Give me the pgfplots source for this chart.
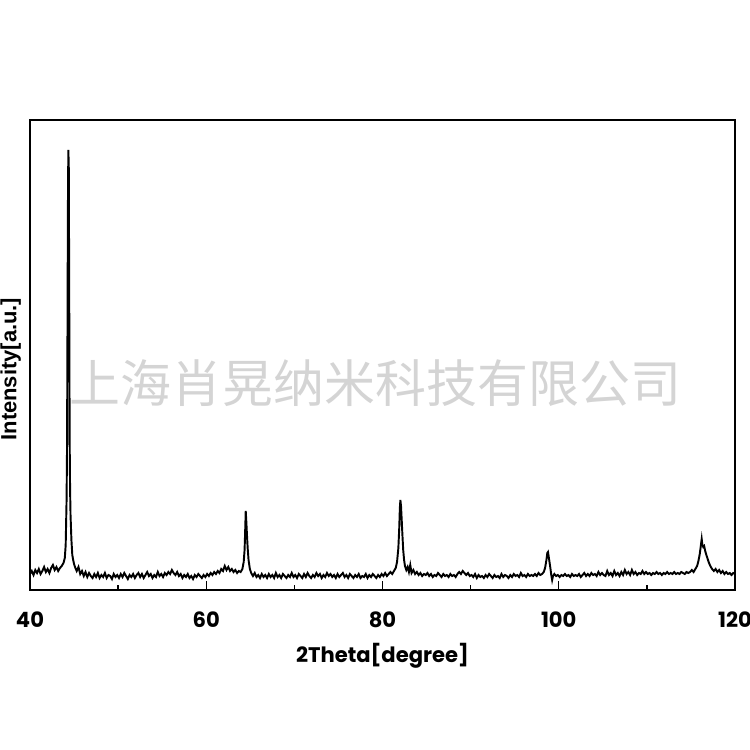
\documentclass[border=0pt]{standalone}
\usepackage{pgfplots}
\pgfplotsset{compat=1.18}
\usepackage{pgfplotstable}
\usepackage{fontspec}
\setmainfont{Poppins}
\newfontfamily\arialb{Liberation Sans}
\newfontfamily\cjk{Noto Sans CJK SC}
\pgfplotstableread{
x y
40.00 16
40.20 19
40.40 15
40.60 20
40.80 17
41.00 21
41.20 16
41.40 19
41.60 23
41.80 18
42.00 21
42.20 17
42.40 22
42.60 25
42.80 20
43.00 23
43.20 19
43.40 22
43.60 24
43.80 27
43.95 32
44.05 45
44.15 90
44.20 140
44.25 250
44.30 380
44.35 440
44.40 425
44.45 300
44.50 150
44.55 100
44.60 75
44.70 50
44.80 35
44.90 30
45.00 26
45.15 22
45.30 19
45.50 23
45.70 16
45.90 19
46.10 14
46.30 18
46.50 13
46.70 17
46.90 14
47.10 12
47.30 16
47.50 13
47.70 17
47.90 12
48.10 15
48.30 13
48.50 17
48.70 12
48.90 15
49.10 14
49.30 11
49.50 16
49.70 13
49.90 15
50.10 12
50.30 16
50.50 13
50.70 17
50.90 14
51.10 11
51.30 15
51.50 13
51.70 16
51.90 12
52.10 15
52.30 17
52.50 13
52.70 16
52.90 12
53.10 15
53.30 18
53.50 14
53.70 16
53.90 12
54.10 15
54.30 13
54.50 18
54.70 14
54.90 16
55.10 13
55.30 17
55.50 15
55.70 18
55.90 16
56.10 20
56.30 17
56.50 15
56.70 18
56.90 14
57.10 16
57.30 12
57.50 15
57.70 13
57.90 16
58.10 12
58.30 14
58.50 11
58.70 15
58.90 13
59.10 16
59.30 14
59.50 12
59.70 15
59.90 13
60.10 16
60.30 14
60.50 17
60.70 15
60.90 18
61.10 16
61.30 19
61.50 17
61.70 21
61.90 19
62.10 24
62.30 20
62.50 23
62.70 19
62.90 21
63.10 18
63.30 20
63.50 17
63.70 19
63.90 18
64.10 21
64.25 28
64.35 40
64.42 60
64.48 79
64.55 68
64.62 55
64.70 42
64.80 30
64.95 21
65.10 17
65.30 14
65.50 17
65.70 13
65.90 15
66.10 12
66.30 16
66.50 13
66.70 15
66.90 12
67.10 16
67.30 13
67.50 15
67.70 12
67.90 17
68.10 13
68.30 15
68.50 12
68.70 16
68.90 14
69.10 12
69.30 15
69.50 13
69.70 17
69.90 13
70.10 15
70.30 12
70.50 16
70.70 14
70.90 12
71.10 16
71.30 13
71.50 17
71.70 14
71.90 12
72.10 15
72.30 13
72.50 17
72.70 14
72.90 16
73.10 12
73.30 15
73.50 13
73.70 17
73.90 14
74.10 16
74.30 13
74.50 15
74.70 12
74.90 16
75.10 13
75.30 15
75.50 17
75.70 13
75.90 15
76.10 12
76.30 16
76.50 14
76.70 12
76.90 15
77.10 13
77.30 16
77.50 12
77.70 14
77.90 13
78.10 16
78.30 12
78.50 15
78.70 13
78.90 16
79.10 14
79.30 12
79.50 15
79.70 13
79.90 16
80.10 14
80.30 17
80.50 14
80.70 16
80.90 18
81.10 16
81.30 19
81.50 22
81.65 28
81.80 42
81.90 62
81.97 82
82.03 90
82.10 84
82.18 70
82.26 55
82.35 40
82.45 30
82.55 24
82.70 20
82.85 23
83.00 18
83.15 25
83.30 17
83.50 20
83.70 16
83.90 18
84.10 15
84.30 17
84.50 14
84.70 16
84.90 15
85.10 17
85.30 14
85.50 16
85.70 13
85.90 15
86.10 14
86.30 17
86.50 15
86.70 13
86.90 16
87.10 14
87.30 15
87.50 13
87.70 16
87.90 14
88.10 15
88.30 13
88.50 16
88.70 18
88.90 16
89.10 19
89.30 17
89.50 15
89.70 17
89.90 14
90.10 15
90.30 13
90.50 16
90.70 12
90.90 15
91.10 13
91.30 14
91.50 12
91.70 15
91.90 13
92.10 16
92.30 14
92.50 12
92.70 15
92.90 13
93.10 14
93.30 12
93.50 16
93.70 13
93.90 15
94.10 14
94.30 12
94.50 15
94.70 13
94.90 16
95.10 14
95.30 15
95.50 13
95.70 17
95.90 14
96.10 15
96.30 13
96.50 16
96.70 14
96.90 15
97.10 14
97.30 16
97.50 14
97.70 17
97.90 15
98.10 16
98.30 18
98.45 22
98.60 30
98.70 37
98.78 38
98.85 34
98.95 28
99.05 22
99.15 15
99.25 10
99.35 14
99.50 16
99.70 14
99.90 15
100.10 13
100.30 15
100.50 14
100.70 16
100.90 14
101.10 15
101.30 13
101.50 16
101.70 14
101.90 15
102.10 14
102.30 16
102.50 13
102.70 15
102.90 17
103.10 14
103.30 16
103.50 14
103.70 17
103.90 15
104.10 16
104.30 14
104.50 18
104.70 15
104.90 17
105.10 15
105.30 14
105.50 19
105.70 15
105.90 17
106.10 14
106.30 19
106.50 15
106.70 17
106.90 14
107.10 18
107.30 15
107.50 20
107.70 16
107.90 18
108.10 15
108.30 20
108.50 16
108.70 18
108.90 15
109.10 17
109.30 16
109.50 19
109.70 16
109.90 18
110.10 16
110.30 17
110.50 15
110.70 17
110.90 16
111.10 18
111.30 16
111.50 17
111.70 15
111.90 17
112.10 16
112.30 18
112.50 16
112.70 17
112.90 16
113.10 18
113.30 16
113.50 17
113.70 16
113.90 18
114.10 17
114.30 16
114.50 18
114.70 17
114.90 18
115.10 20
115.30 18
115.50 21
115.70 24
115.85 29
116.00 36
116.12 44
116.22 51
116.30 45
116.40 43
116.50 44
116.62 39
116.75 35
116.90 31
117.05 27
117.20 24
117.40 21
117.60 19
117.80 21
118.00 18
118.20 20
118.40 17
118.60 19
118.80 16
119.00 18
119.20 16
119.40 17
119.60 15
119.80 17
120.00 16
}\xrd
\begin{document}
\begin{tikzpicture}
\path[use as bounding box] (-0.6,-3.2) rectangle (14.4,11.8);
\begin{axis}[
  at={(0,0)}, anchor=south west,
  scale only axis, width=14.1cm, height=9.4cm,
  xmin=40, xmax=120, ymin=0, ymax=470,
  xtick={40,60,80,100,120},
  minor xtick={50,70,90,110},
  xtick pos=bottom, tick align=inside,
  major tick length=5pt, minor tick length=3pt,
  ytick=\empty,
  axis line style={line width=1.4pt},
  every tick/.style={black, line width=0.8pt},
  tick label style={font=\fontsize{12}{14}\selectfont\bfseries},
  xticklabel style={yshift=-9pt},
  /pgf/number format/assume math mode=true,
  xlabel={2Theta[degree]},
  xlabel style={font=\fontsize{12}{14}\selectfont\bfseries, yshift=-2pt},
  ylabel={\arialb\bfseries Intensity[a.u.]},
  ylabel style={font=\fontsize{12.5}{14}\selectfont, at={(rel axis cs:0,0.47)}, anchor=south, inner sep=1pt, yshift=4pt},
  clip=true,
]
\addplot[black, line width=1.1pt] table[x=x, y=y] {\xrd};
\node[text=black!17, font=\cjk\fontsize{29}{32}\selectfont, inner sep=0pt] at (rel axis cs:0.49,0.44) {上海肖晃纳米科技有限公司};
\end{axis}
\end{tikzpicture}
\end{document}
